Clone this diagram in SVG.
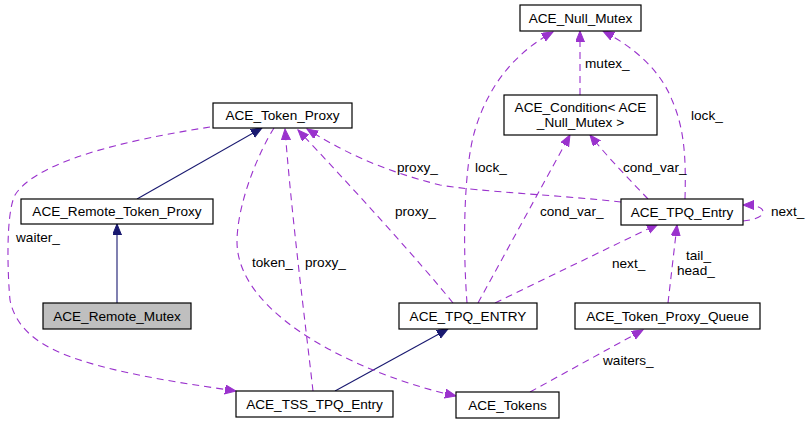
<svg xmlns="http://www.w3.org/2000/svg" width="810" height="424" viewBox="0 0 810 424">
<defs>
<style>
text{font-family:"Liberation Sans",Arial,sans-serif;font-size:13.6px;fill:#000}
.n{text-anchor:middle}
.box{fill:#fff;stroke:#000;stroke-width:1.2}
.dep{fill:none;stroke:#9a32cd;stroke-width:1.1;stroke-dasharray:7,5;marker-end:url(#pa)}
.inh{fill:none;stroke:#191970;stroke-width:1.1;marker-end:url(#na)}
</style>
<marker id="pa" markerUnits="userSpaceOnUse" markerWidth="12" markerHeight="10" refX="11" refY="4.5" orient="auto"><path d="M0,0 L11,4.5 L0,9 z" fill="#9a32cd" stroke="#9a32cd"/></marker>
<marker id="na" markerUnits="userSpaceOnUse" markerWidth="12" markerHeight="10" refX="11" refY="4.5" orient="auto"><path d="M0,0 L11,4.5 L0,9 z" fill="#191970" stroke="#191970"/></marker>
</defs>
<rect width="810" height="424" fill="#fff"/>
<g id="edges">
<path class="inh" d="M137,199 L262,128"/>
<path class="inh" d="M117,303 L117,224"/>
<path class="inh" d="M335,391 L448,329"/>
<path class="dep" d="M210,127 C160,135 40,155 15,195 C5,215 8,280 10,300 C18,340 60,355 100,366 C145,378 195,385 236,391"/>
<path class="dep" d="M274,128 C260,150 238,200 237,240 C236,290 290,330 340,355 C380,375 420,388 456,396"/>
<path class="dep" d="M313,391 C305,320 292,220 285,129"/>
<path class="dep" d="M453,303 C420,262 350,185 298,130"/>
<path class="dep" d="M621,202 C560,195 480,192 440,185 C380,170 340,150 307,129"/>
<path class="dep" d="M467,303 C463,250 463,170 475,130 C490,80 520,50 553,32"/>
<path class="dep" d="M580,95 L580,31"/>
<path class="dep" d="M685,199 C686,160 685,130 672,100 C660,70 635,48 603,31"/>
<path class="dep" d="M478,303 L570,135"/>
<path class="dep" d="M648,199 C630,180 610,160 590,135"/>
<path class="dep" d="M495,303 L658,224"/>
<path class="dep" d="M743,221 C753,220 763,217 763,212 C763,207 755,205 743,205"/>
<path class="dep" d="M668,303 L677,225"/>
<path class="dep" d="M530,392 L643,330"/>
<text x="16" y="242">waiter_</text>
<text x="252" y="267">token_</text>
<text x="305" y="267">proxy_</text>
<text x="395" y="216">proxy_</text>
<text x="397" y="172">proxy_</text>
<text x="475" y="172">lock_</text>
<text x="585" y="68">mutex_</text>
<text x="691" y="120">lock_</text>
<text x="540" y="216">cond_var_</text>
<text x="623" y="172">cond_var_</text>
<text x="612" y="268">next_</text>
<text x="771" y="216">next_</text>
<text x="686" y="260">tail_</text>
<text x="677" y="275">head_</text>
<text x="603" y="365">waiters_</text>
</g>
<g id="ACE_Null_Mutex"><rect class="box" x="520" y="5" width="121" height="26"/><text class="n" x="580.5" y="23">ACE_Null_Mutex</text></g>
<g id="ACE_Token_Proxy"><rect class="box" x="213" y="103" width="139" height="25"/><text class="n" x="282.5" y="120">ACE_Token_Proxy</text></g>
<g id="ACE_Condition"><rect class="box" x="504" y="95" width="153" height="40"/><text class="n" x="580.5" y="112">ACE_Condition&lt; ACE</text><text class="n" x="580.5" y="127">_Null_Mutex &gt;</text></g>
<g id="ACE_TPQ_Entry"><rect class="box" x="621" y="199" width="122" height="26"/><text class="n" x="682" y="217">ACE_TPQ_Entry</text></g>
<g id="ACE_Remote_Token_Proxy"><rect class="box" x="21" y="199" width="192" height="25"/><text class="n" x="117" y="216">ACE_Remote_Token_Proxy</text></g>
<g id="ACE_Remote_Mutex"><rect class="box" x="43" y="303" width="148" height="26" style="fill:#bfbfbf"/><text class="n" x="117" y="321">ACE_Remote_Mutex</text></g>
<g id="ACE_TPQ_ENTRY"><rect class="box" x="399" y="303" width="138" height="26"/><text class="n" x="468" y="321">ACE_TPQ_ENTRY</text></g>
<g id="ACE_Token_Proxy_Queue"><rect class="box" x="575" y="303" width="185" height="26"/><text class="n" x="667.5" y="321">ACE_Token_Proxy_Queue</text></g>
<g id="ACE_TSS_TPQ_Entry"><rect class="box" x="236" y="391" width="157" height="26"/><text class="n" x="314.5" y="409">ACE_TSS_TPQ_Entry</text></g>
<g id="ACE_Tokens"><rect class="box" x="456" y="392" width="103" height="26"/><text class="n" x="507.5" y="410">ACE_Tokens</text></g>
</svg>
